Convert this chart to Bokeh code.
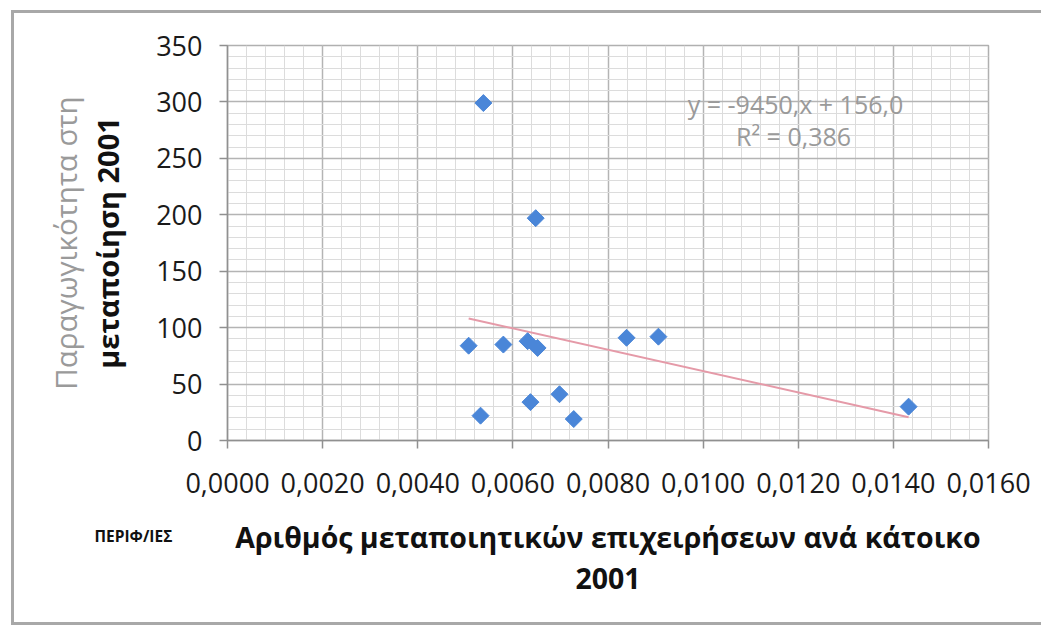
import numpy as np
from bokeh.plotting import figure
from bokeh.models import (Range1d, FixedTicker, CustomJSTickFormatter, Label,
                          Title, LinearAxis, ColumnDataSource)
from bokeh.embed import file_html
from bokeh.resources import INLINE

# ---- data ----
x_vals = [0.00507, 0.00532, 0.00538, 0.00580, 0.00631, 0.00652, 0.00637,
          0.00648, 0.00698, 0.00728, 0.00839, 0.00906, 0.01432]
y_vals = [84, 22, 299, 85, 88, 82, 34, 197, 41, 19, 91, 92, 30]
trend_slope = -9450.0
trend_intercept = 156.0
r_squared = "0,386"
x_ticks = [0.0, 0.002, 0.004, 0.006, 0.008, 0.010, 0.012, 0.014, 0.016]
y_ticks = [0, 50, 100, 150, 200, 250, 300, 350]
x_minor = [i * 0.0004 for i in range(41)]
y_minor = [i * 10 for i in range(36)]

FONT = "Open Sans"
W, H = 1041, 625
BORDER = "#a8a8a8"

p = figure(width=W, height=H, output_backend="svg", toolbar_location=None,
           x_range=Range1d(0, 0.016), y_range=Range1d(0, 350),
           min_border_left=227, min_border_right=W - 988, min_border_top=45,
           min_border_bottom=H - 440)
p.background_fill_color = "white"
p.border_fill_alpha = 0
p.outline_line_color = "#b0b0b0"
p.outline_line_width = 1.5
grad = f"linear-gradient({BORDER},{BORDER})"
p.styles = {
    "background-color": "#ffffff",
    "background-image": f"{grad}, {grad}, {grad}",
    "background-size": "3px 100%, 100% 3px, 100% 3px",
    "background-position": "11px 10px, 11px 10px, 11px 100%",
    "background-repeat": "no-repeat",
}

xaxis = p.xaxis[0]
yaxis = p.yaxis[0]

# axes
xaxis.ticker = FixedTicker(ticks=x_ticks, minor_ticks=x_minor)
yaxis.ticker = FixedTicker(ticks=y_ticks, minor_ticks=y_minor)
xaxis.formatter = CustomJSTickFormatter(code="return tick.toFixed(4).replace('.', ',');")
yaxis.formatter = CustomJSTickFormatter(code="return tick.toFixed(0);")
for ax in (xaxis, yaxis):
    ax.axis_line_color = "#909090"
    ax.axis_line_width = 1.5
    ax.major_tick_line_color = "#909090"
    ax.major_tick_line_width = 1.5
    ax.major_tick_out = 8
    ax.major_tick_in = 0
    ax.minor_tick_line_color = None
    ax.major_label_text_font = FONT
    ax.major_label_text_font_size = "27px"
    ax.major_label_text_color = "#1a1a1a"
    ax.axis_label_text_font = FONT
    ax.axis_label_text_font_style = "bold"
    ax.axis_label_text_color = "#111111"
xaxis.major_label_standoff = 24
yaxis.major_label_standoff = 17

yaxis.axis_label = "μεταποίηση 2001"
yaxis.axis_label_text_font_size = "29px"
yaxis.axis_label_standoff = 26

# outer y title line
p.add_layout(Title(text="Παραγωγικότητα στη", text_font=FONT,
                   text_font_size="29.5px", text_font_style="normal",
                   text_color="#9a9a9a", align="center", standoff=-1), "left")

# small label left of the x title (sits between tick labels and the title axis)
p.add_layout(Title(text="ΠΕΡΙΦ/ΙΕΣ", text_font=FONT, text_font_size="15.5px",
                   text_font_style="bold", text_color="#111111",
                   align="left", offset=-133, vertical_align="bottom",
                   standoff=55), "below")

# x title carried by a bare second axis
title_axis = LinearAxis(ticker=FixedTicker(ticks=[]), axis_line_color=None,
                        major_tick_line_color=None, minor_tick_line_color=None,
                        major_tick_out=0, major_label_standoff=0,
                        axis_label="Αριθμός μεταποιητικών επιχειρήσεων ανά κάτοικο\n2001",
                        axis_label_text_font=FONT,
                        axis_label_text_font_size="28.5px",
                        axis_label_text_font_style="bold",
                        axis_label_text_color="#111111",
                        axis_label_text_line_height=1.08,
                        axis_label_standoff=-57)
p.add_layout(title_axis, "below")

# grids
for g in (p.xgrid, p.ygrid):
    g.grid_line_color = "#b4b4b4"
    g.grid_line_width = 1.5
    g.minor_grid_line_color = "#dcdcdc"
    g.minor_grid_line_width = 1

# trend line from the fitted equation over the data's x extent
tx = np.array([min(x_vals), max(x_vals)])
ty = trend_slope * tx + trend_intercept
p.line(tx, ty, line_color="#e59aa8", line_width=2)

# points
src = ColumnDataSource(dict(x=x_vals, y=y_vals))
p.scatter("x", "y", source=src, marker="square", angle=np.pi / 4, size=12,
          fill_color="#4a86d8", line_color="#4a86d8")

# equation text
p.add_layout(Label(x=795, y=103, x_units="canvas", y_units="canvas",
                   text="y = -9450,x + 156,0", text_font=FONT,
                   text_font_size="25px", text_color="#9a9a9a",
                   text_align="center", text_baseline="middle"))
p.add_layout(Label(x=793, y=135, x_units="canvas", y_units="canvas",
                   text="R² = " + r_squared, text_font=FONT,
                   text_font_size="25px", text_color="#9a9a9a",
                   text_align="center", text_baseline="middle"))

open("out.html", "w").write(file_html(p, INLINE))
